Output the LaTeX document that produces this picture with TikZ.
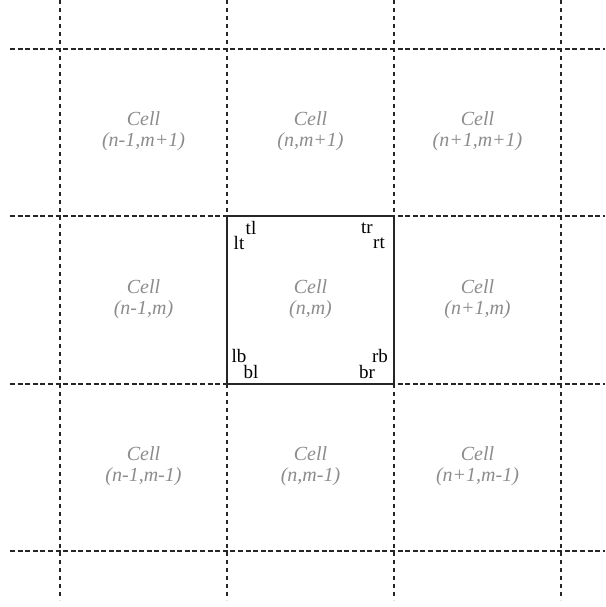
\documentclass[tikz,border=0pt]{standalone}
\usepackage{fontspec}
\setmainfont{Liberation Serif}
\begin{document}
\begin{tikzpicture}[x=1pt,y=-1pt,
  gridline/.style={line width=2pt, dash pattern=on 5pt off 2.6pt, black!85},
  vgridline/.style={line width=2pt, dash pattern=on 4pt off 4pt, black!85},
  celltext/.style={font=\fontsize{20}{21}\selectfont\itshape, text=black!45, align=center},
  corner/.style={font=\fontsize{19}{19}\selectfont, text=black, inner sep=0pt}]
\useasboundingbox (0,0) rectangle (605,607);
% grid coordinates
\foreach \i/\y in {1/49,2/216,3/384,4/551} {
  \coordinate (hl\i) at (10,\y);
  \coordinate (hr\i) at (605,\y);
  \draw[gridline] (hl\i) -- (hr\i);
}
\foreach \i/\x in {1/60,2/227,3/394,4/561} {
  \coordinate (vt\i) at (\x,0);
  \coordinate (vb\i) at (\x,600);
  \draw[vgridline] (vt\i) -- (vb\i);
}
% central cell
\coordinate (c1) at (227,216);
\coordinate (c2) at (394,384);
\draw[line width=2pt, black!85] (c1) rectangle (c2);
% cell labels
\node[celltext] (a1) at (143.5,131.5) {Cell\\(n-1,m+1)};
\node[celltext] (a2) at (310.5,131.5) {Cell\\(n,m+1)};
\node[celltext] (a3) at (477.5,131.5) {Cell\\(n+1,m+1)};
\node[celltext] (b1) at (143.5,299) {Cell\\(n-1,m)};
\node[celltext] (b2) at (310.5,299) {Cell\\(n,m)};
\node[celltext] (b3) at (477.5,299) {Cell\\(n+1,m)};
\node[celltext] (d1) at (143.5,466.5) {Cell\\(n-1,m-1)};
\node[celltext] (d2) at (310.5,466.5) {Cell\\(n,m-1)};
\node[celltext] (d3) at (477.5,466.5) {Cell\\(n+1,m-1)};
% corner labels
\node[corner] (tl) at (251,228) {tl};
\node[corner] (lt) at (239,243) {lt};
\node[corner] (tr) at (367,228) {tr};
\node[corner] (rt) at (379,243) {rt};
\node[corner] (lb) at (239,356) {lb};
\node[corner] (bl) at (251,372) {bl};
\node[corner] (rb) at (380,356) {rb};
\node[corner] (br) at (367,372) {br};
\end{tikzpicture}
\end{document}
